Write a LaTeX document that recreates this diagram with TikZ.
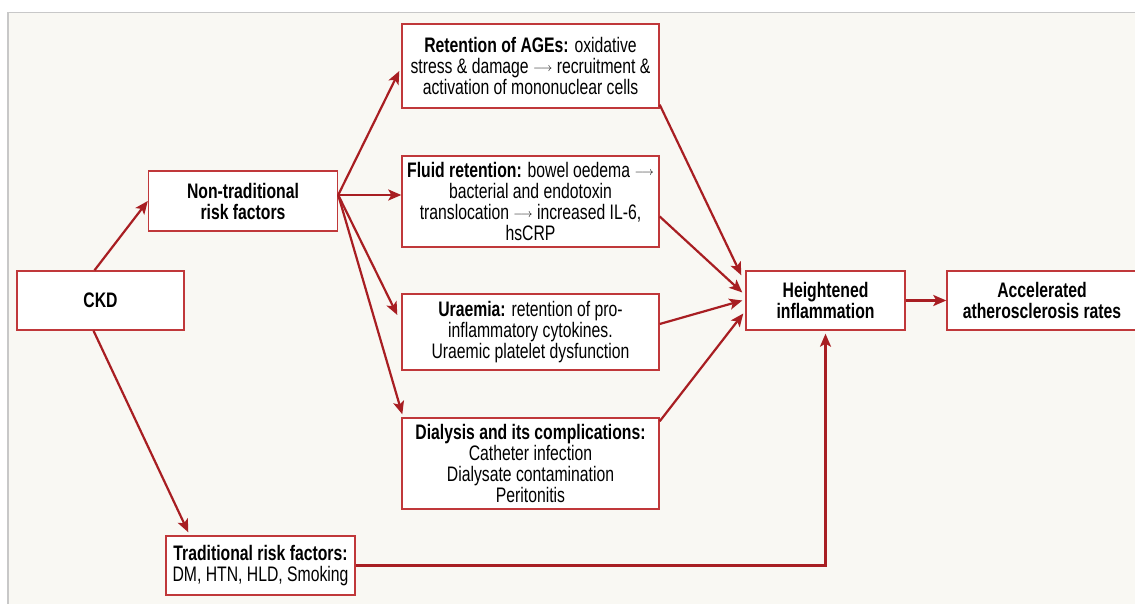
\documentclass[tikz,border=0pt]{standalone}
\usepackage{fontspec}
\setmainfont{Liberation Sans}[FakeStretch=0.75]
\usetikzlibrary{arrows.meta,calc}
\definecolor{arrred}{RGB}{168,30,34}
\definecolor{boxred}{RGB}{192,56,58}
\definecolor{panel}{RGB}{249,248,243}
\definecolor{edgegrey}{RGB}{200,200,200}
\newcommand{\arrw}{ \raisebox{2.5bp}{\fontsize{13bp}{13bp}\selectfont$\longrightarrow$} }
\tikzset{
  rbox/.style={draw=boxred, line width=1.4bp, fill=white, align=center, inner sep=0pt,
    font=\fontsize{21bp}{21bp}\selectfont},
  arr/.style={draw=arrred, line width=2.2bp, -{Stealth[length=13bp,width=11bp,inset=3bp]}},
}
\begin{document}
\begin{tikzpicture}[x=1bp,y=-1bp]
\useasboundingbox (0,0) rectangle (1135,604);
\fill[white] (0,0) rectangle (1135,604);
\fill[panel] (7,12) rectangle (1135,604);
\draw[edgegrey, line width=1.5bp] (7.75,604) -- (7.75,12.75) -- (1135,12.75);

\node[rbox, minimum width=167bp, minimum height=59bp] (ckd) at (100.5,300.5) {\textbf{CKD}};
\node[rbox, minimum width=189bp, minimum height=60bp] (non) at (243,201) {\textbf{Non-traditional}\\\textbf{risk factors}};
\node[rbox, minimum width=189bp, minimum height=59bp] (trad) at (260.5,565.5) {\textbf{Traditional risk factors:}\\DM, HTN, HLD, Smoking};
\node[rbox, minimum width=257bp, minimum height=84bp] (age) at (530.5,66) {\textbf{Retention of AGEs:} oxidative\\stress \& damage\arrw recruitment \&\\activation of mononuclear cells};
\node[rbox, minimum width=257bp, minimum height=91bp] (fluid) at (530.5,201.5) {\textbf{Fluid retention:} bowel oedema\arrw\\bacterial and endotoxin\\translocation\arrw increased IL-6,\\hsCRP};
\node[rbox, minimum width=257bp, minimum height=76bp] (ura) at (530.5,332) {\textbf{Uraemia:} retention of pro-\\inflammatory cytokines.\\Uraemic platelet dysfunction};
\node[rbox, minimum width=257bp, minimum height=91bp] (dia) at (530.5,463.5) {\textbf{Dialysis and its complications:}\\Catheter infection\\Dialysate contamination\\Peritonitis};
\node[rbox, minimum width=159bp, minimum height=59bp] (hi) at (825.5,300.5) {\textbf{Heightened}\\\textbf{inflammation}};
\node[rbox, minimum width=190bp, minimum height=59bp] (acc) at (1042,300.5) {\textbf{Accelerated}\\\textbf{atherosclerosis rates}};

\coordinate (ns) at ([yshift=6bp]non.east);

\draw[arr] ([xshift=-6bp]ckd.north) -- (non.west);
\draw[arr] ([xshift=-7bp]ckd.south) -- ([shift={(23bp,3bp)}]trad.north west);
\draw[arr] (ns) -- ([shift={(-2bp,-5bp)}]age.west);
\draw[arr] (ns) -- (ns -| fluid.west);
\draw[arr] (ns) -- ([shift={(-4bp,17bp)}]ura.west);
\draw[arr] (ns) -- ([shift={(1bp,3bp)}]dia.north west);
\draw[arr] ([yshift=4bp]age.south east) -- ([shift={(-4bp,-5bp)}]hi.north west);
\draw[arr] ([yshift=-15bp]fluid.east) -- ([shift={(-3bp,8bp)}]hi.west);
\draw[arr] ([yshift=8bp]ura.east) -- ([shift={(-3bp,0bp)}]hi.west);
\draw[arr] ([yshift=-4bp]dia.north east) -- ([shift={(-2bp,-13bp)}]hi.west);
\draw[arr] (hi.east) -- (acc.west);
\draw[arr] (trad.east) -| ([yshift=-3bp]hi.south);
\end{tikzpicture}
\end{document}
